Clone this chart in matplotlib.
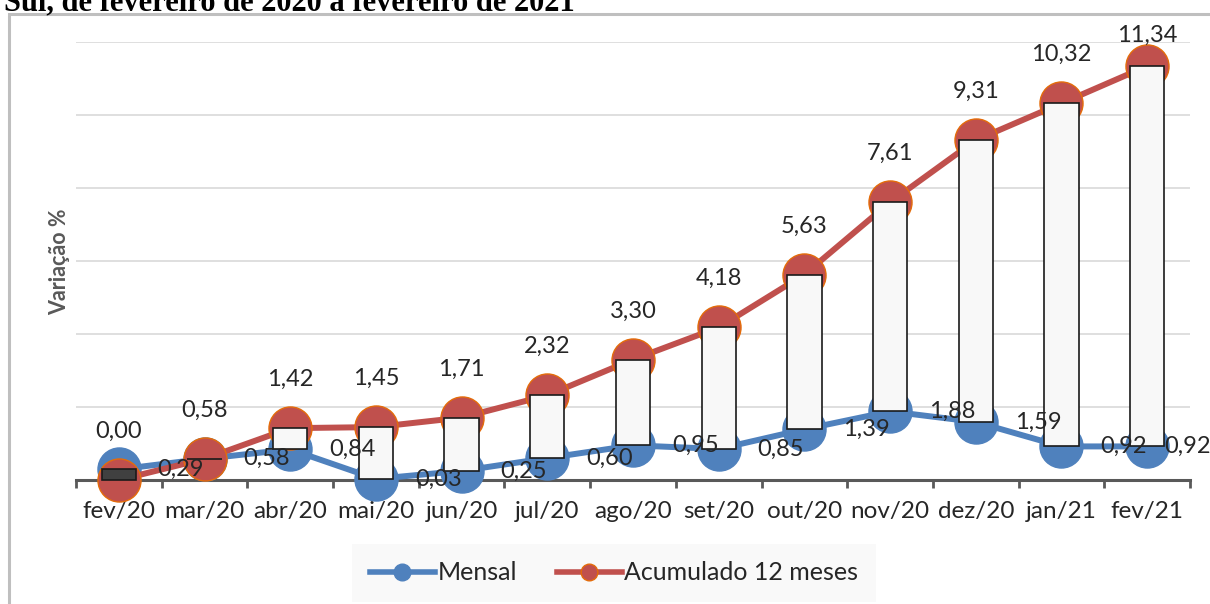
import numpy as np
import matplotlib
matplotlib.use("Agg")
import matplotlib.pyplot as plt
from matplotlib.lines import Line2D
from matplotlib.patches import Rectangle

meses = ["fev/20", "mar/20", "abr/20", "mai/20", "jun/20", "jul/20", "ago/20",
         "set/20", "out/20", "nov/20", "dez/20", "jan/21", "fev/21"]
mensal = [0.29, 0.58, 0.84, 0.03, 0.25, 0.60, 0.95, 0.85, 1.39, 1.88, 1.59, 0.92, 0.92]
acumulado = [0.00, 0.58, 1.42, 1.45, 1.71, 2.32, 3.30, 4.18, 5.63, 7.61, 9.31, 10.32, 11.34]

titulo = "Sul, de fevereiro de 2020 a fevereiro de 2021"

AZUL = "#4F81BD"
VERMELHO = "#C0504D"
CINZA = "#595959"

plt.rcParams["font.family"] = ["Lato", "DejaVu Sans"]

fig = plt.figure(figsize=(12.1, 6.04), dpi=100)
W, H = 1210, 604

# outer chart frame (only top and left edge visible)
fig.patches.append(Rectangle((9 / W, -0.1), 1.2, 1 - 14 / H + 0.1, transform=fig.transFigure,
                             fill=False, edgecolor="#BFBFBF", linewidth=2.2))

fig.text(4 / W, 1 - 10 / H, titulo, fontsize=22, fontweight="bold",
         family="Liberation Serif", va="baseline", ha="left")

ax = fig.add_axes([76 / W, 1 - 480 / H, (1190 - 76) / W, (480 - 42) / H])
x = np.arange(len(meses))

ax.plot(x, mensal, color=AZUL, lw=4.3, marker="o", ms=31, mfc=AZUL, mec=AZUL,
        zorder=3, clip_on=False, solid_capstyle="round")
ax.plot(x, acumulado, color=VERMELHO, lw=4.3, marker="o", ms=31, mfc=VERMELHO,
        mec="#E46C0A", mew=1, zorder=4, clip_on=False, solid_capstyle="round")

# up/down bars between the two series
diff = np.array(acumulado) - np.array(mensal)
cores = ["#404040" if d < 0 else "#F8F8F8" for d in diff]
ax.bar(x, diff, bottom=mensal, width=0.4, color=cores, edgecolor="#1a1a1a",
       linewidth=1.2, zorder=5, clip_on=False)

# data labels
for i, v in enumerate(acumulado):
    dy = 22 if i == len(acumulado) - 1 else 35
    ax.annotate(f"{v:.2f}".replace(".", ","), (x[i], v), xytext=(0, dy),
                textcoords="offset points", ha="center", va="center",
                fontsize=17, color="#262626", zorder=6)
for i, v in enumerate(mensal):
    dx = 12 if i == len(mensal) - 1 else 28
    ax.annotate(f"{v:.2f}".replace(".", ","), (x[i], v), xytext=(dx, 0),
                textcoords="offset points", ha="left", va="center",
                fontsize=17, color="#262626", zorder=6, annotation_clip=False)

ax.set_xlim(-0.5, len(meses) - 0.5)
ax.set_ylim(0, 12)
ax.set_yticks(np.arange(0, 13, 2))
ax.set_yticklabels([])
ax.tick_params(axis="y", length=0)
ax.grid(axis="y", color="#D9D9D9", linewidth=1.2, zorder=0)
ax.set_axisbelow(True)

ax.set_xticks(x)
ax.set_xticklabels(meses, fontsize=17.5, color="#262626")
ax.set_xticks(np.arange(-0.5, len(meses), 1), minor=True)
ax.tick_params(axis="x", which="major", length=0, pad=15)
ax.tick_params(axis="x", which="minor", length=6, width=2, color=CINZA, direction="out")

for s in ["top", "right", "left"]:
    ax.spines[s].set_visible(False)
ax.spines["bottom"].set_color(CINZA)
ax.spines["bottom"].set_linewidth(2.2)
ax.spines["bottom"].set_zorder(2)

fig.text(60 / W, 1 - 262 / H, "Variação %", rotation=90, fontsize=15.5,
         fontweight="bold", color=CINZA, ha="center", va="center")

handles = [
    Line2D([], [], color=AZUL, lw=4, marker="o", ms=12, mfc=AZUL, mec=AZUL),
    Line2D([], [], color=VERMELHO, lw=4, marker="o", ms=12, mfc=VERMELHO, mec="#E46C0A"),
]
leg = fig.legend(handles, ["Mensal", "Acumulado 12 meses"], loc="center",
                 bbox_to_anchor=(614 / W, 1 - 573 / H), ncol=2, fontsize=18,
                 frameon=True, handlelength=2.6, handletextpad=0.1,
                 columnspacing=1.6, borderpad=0.7)
leg.get_frame().set_facecolor("#F8F8F8")
leg.get_frame().set_edgecolor("none")
leg.get_frame().set_boxstyle("square", pad=0)
for t in leg.get_texts():
    t.set_color("#262626")

fig.savefig("out.png", dpi=100)
